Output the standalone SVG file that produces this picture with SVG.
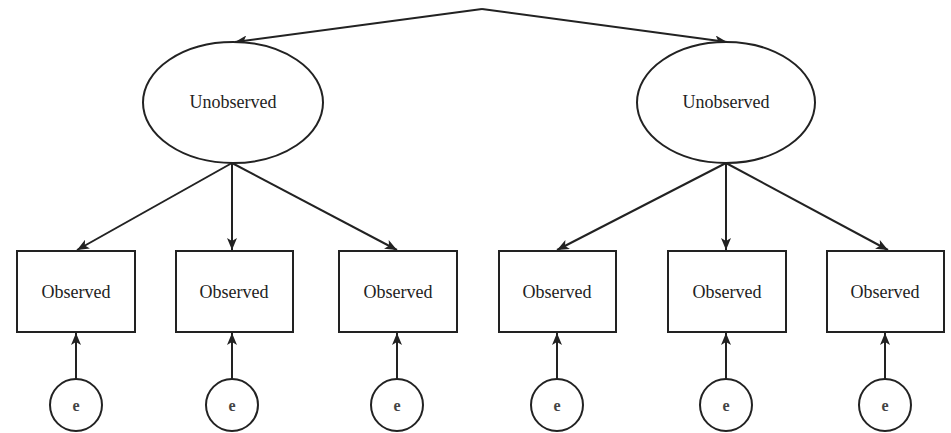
<svg xmlns="http://www.w3.org/2000/svg" width="951" height="433" viewBox="0 0 951 433">
<defs>
<marker id="ah" viewBox="0 0 12 10" refX="12" refY="5" markerWidth="12" markerHeight="10" markerUnits="userSpaceOnUse" orient="auto">
<path d="M0,0 L12,5 L0,10 L3,5 Z" fill="#222"/>
</marker>
<style>
.sh{fill:#fff;stroke:#222;stroke-width:2}
.ln{fill:none;stroke:#222;stroke-width:2;marker-end:url(#ah)}
.t{font-family:"Liberation Serif",serif;font-size:18px;fill:#222;text-anchor:middle;dominant-baseline:central}
.e{font-family:"Liberation Serif",serif;font-size:16px;font-weight:bold;fill:#444;text-anchor:middle;dominant-baseline:central}
</style>
</defs>
<rect width="951" height="433" fill="#fff"/>
<g id="connectors">
<path class="ln" d="M482,9 L235,42"/>
<path class="ln" d="M482,9 L727,42"/>
<path class="ln" d="M232,163 L77,250"/>
<path class="ln" d="M232,163 L232,250"/>
<path class="ln" d="M232,163 L397,250"/>
<path class="ln" d="M726,163 L557,250"/>
<path class="ln" d="M726,163 L726,250"/>
<path class="ln" d="M726,163 L888,250"/>
<path class="ln" d="M76,379 L76,333"/>
<path class="ln" d="M232,379 L232,333"/>
<path class="ln" d="M397,379 L397,333"/>
<path class="ln" d="M557,379 L557,333"/>
<path class="ln" d="M726,379 L726,333"/>
<path class="ln" d="M885,379 L885,333"/>
</g>
<g id="u1"><ellipse class="sh" cx="233" cy="102.5" rx="90" ry="60.5"/><text class="t" x="233" y="102">Unobserved</text></g>
<g id="u2"><ellipse class="sh" cx="726" cy="102.5" rx="89" ry="60.5"/><text class="t" x="726" y="102">Unobserved</text></g>
<g id="o1"><rect class="sh" x="17" y="251" width="118" height="81"/><text class="t" x="76" y="292">Observed</text></g>
<g id="o2"><rect class="sh" x="176" y="251" width="117" height="81"/><text class="t" x="234" y="292">Observed</text></g>
<g id="o3"><rect class="sh" x="339" y="251" width="118" height="81"/><text class="t" x="398" y="292">Observed</text></g>
<g id="o4"><rect class="sh" x="499" y="251" width="117" height="81"/><text class="t" x="557" y="292">Observed</text></g>
<g id="o5"><rect class="sh" x="668" y="251" width="118" height="81"/><text class="t" x="727" y="292">Observed</text></g>
<g id="o6"><rect class="sh" x="827" y="251" width="117" height="81"/><text class="t" x="885" y="292">Observed</text></g>
<g id="e1"><circle class="sh" cx="76" cy="405" r="26"/><text class="e" x="76" y="405">e</text></g>
<g id="e2"><circle class="sh" cx="232" cy="405" r="26"/><text class="e" x="232" y="405">e</text></g>
<g id="e3"><circle class="sh" cx="397" cy="405" r="26"/><text class="e" x="397" y="405">e</text></g>
<g id="e4"><circle class="sh" cx="557" cy="405" r="26"/><text class="e" x="557" y="405">e</text></g>
<g id="e5"><circle class="sh" cx="726" cy="405" r="26"/><text class="e" x="726" y="405">e</text></g>
<g id="e6"><circle class="sh" cx="885" cy="405" r="26"/><text class="e" x="885" y="405">e</text></g>
</svg>
